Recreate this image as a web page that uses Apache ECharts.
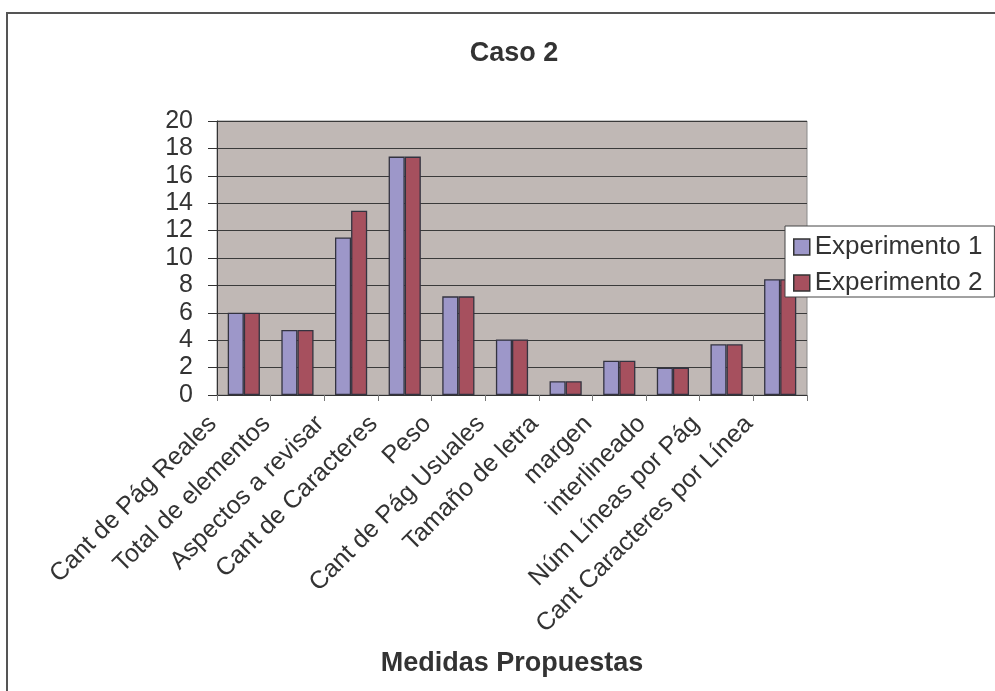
<!DOCTYPE html>
<html>
<head>
<meta charset="utf-8">
<title>Caso 2</title>
<script src="https://cdn.jsdelivr.net/npm/echarts@6/dist/echarts.min.js"></script>
<style>
  html, body { margin: 0; padding: 0; background: #ffffff; }
  #chart { width: 995px; height: 691px; }
</style>
</head>
<body>
<div id="chart"></div>
<script>
// Proposed measures (x categories)
const categories = [
  'Cant de Pág Reales',
  'Total de elementos',
  'Aspectos a revisar',
  'Cant de Caracteres',
  'Peso',
  'Cant de Pág Usuales',
  'Tamaño de letra',
  'margen',
  'interlineado',
  'Núm Líneas por Pág',
  'Cant Caracteres por Línea'
];

// Values per experiment
const experimento1 = [6, 4.75, 11.5, 17.4, 7.2, 4.05, 1, 2.5, 2, 3.7, 8.45];
const experimento2 = [6, 4.75, 13.45, 17.4, 7.2, 4.05, 1, 2.5, 2, 3.7, 8.45];

// Value axis ticks
const yMin = 0, yMax = 20, yStep = 2;

const FONT = '"Liberation Sans", Arial, sans-serif';
const TEXT = '#333333';

const chart = echarts.init(document.getElementById('chart'), null, { renderer: 'canvas' });

chart.setOption({
  backgroundColor: '#ffffff',
  animation: false,
  textStyle: { fontFamily: FONT, color: TEXT },
  title: {
    text: 'Caso 2',
    left: 509,
    textAlign: 'center',
    top: 35,
    textStyle: { fontFamily: FONT, fontWeight: 'bold', fontSize: 27, color: TEXT }
  },
  graphic: [{
    type: 'rect',
    silent: true,
    shape: { x: 7, y: 13, width: 1000, height: 700 },
    style: { fill: 'none', stroke: '#555555', lineWidth: 2 }
  }],
  legend: {
    orient: 'vertical',
    left: 785,
    top: 226,
    padding: [8, 12, 1, 8],
    itemWidth: 16,
    itemHeight: 16,
    itemGap: 10,
    icon: 'rect',
    backgroundColor: '#ffffff',
    borderColor: '#444444',
    borderWidth: 1,
    itemStyle: { borderColor: '#333333', borderWidth: 1.5 },
    textStyle: { fontFamily: FONT, fontSize: 26, color: TEXT },
    data: ['Experimento 1', 'Experimento 2']
  },
  grid: {
    left: 217,
    right: 188,
    top: 121,
    bottom: 296,
    show: true,
    backgroundColor: '#C0B8B5',
    borderColor: '#8a8a8a',
    borderWidth: 1
  },
  xAxis: {
    type: 'category',
    data: categories,
    name: 'Medidas Propuestas',
    nameLocation: 'middle',
    nameGap: 255,
    nameTextStyle: { fontFamily: FONT, fontWeight: 'bold', fontSize: 27, color: TEXT },
    axisLine: { show: true, lineStyle: { color: '#333333', width: 1 } },
    axisTick: { show: true, length: 6, lineStyle: { color: '#777777' } },
    axisLabel: {
      interval: 0,
      rotate: 45,
      margin: -6,
      padding: [0, 44, 0, 0],
      fontFamily: FONT,
      fontSize: 25,
      color: TEXT
    },
    splitLine: { show: false }
  },
  yAxis: {
    type: 'value',
    min: yMin,
    max: yMax,
    interval: yStep,
    axisLine: { show: true, lineStyle: { color: '#333333', width: 1 } },
    axisTick: { show: true, length: 9, lineStyle: { color: '#333333' } },
    axisLabel: { margin: 24, fontFamily: FONT, fontSize: 25, color: TEXT },
    splitLine: { show: true, lineStyle: { color: '#3a3a3a', width: 1 } }
  },
  series: [
    {
      name: 'Experimento 1',
      type: 'bar',
      data: experimento1,
      barGap: '0%',
      barCategoryGap: '40%',
      itemStyle: { color: '#9D97C9', borderColor: '#333340', borderWidth: 1.3 }
    },
    {
      name: 'Experimento 2',
      type: 'bar',
      data: experimento2,
      barGap: '0%',
      barCategoryGap: '40%',
      itemStyle: { color: '#A6505E', borderColor: '#333340', borderWidth: 1.3 }
    }
  ]
});
</script>
</body>
</html>
